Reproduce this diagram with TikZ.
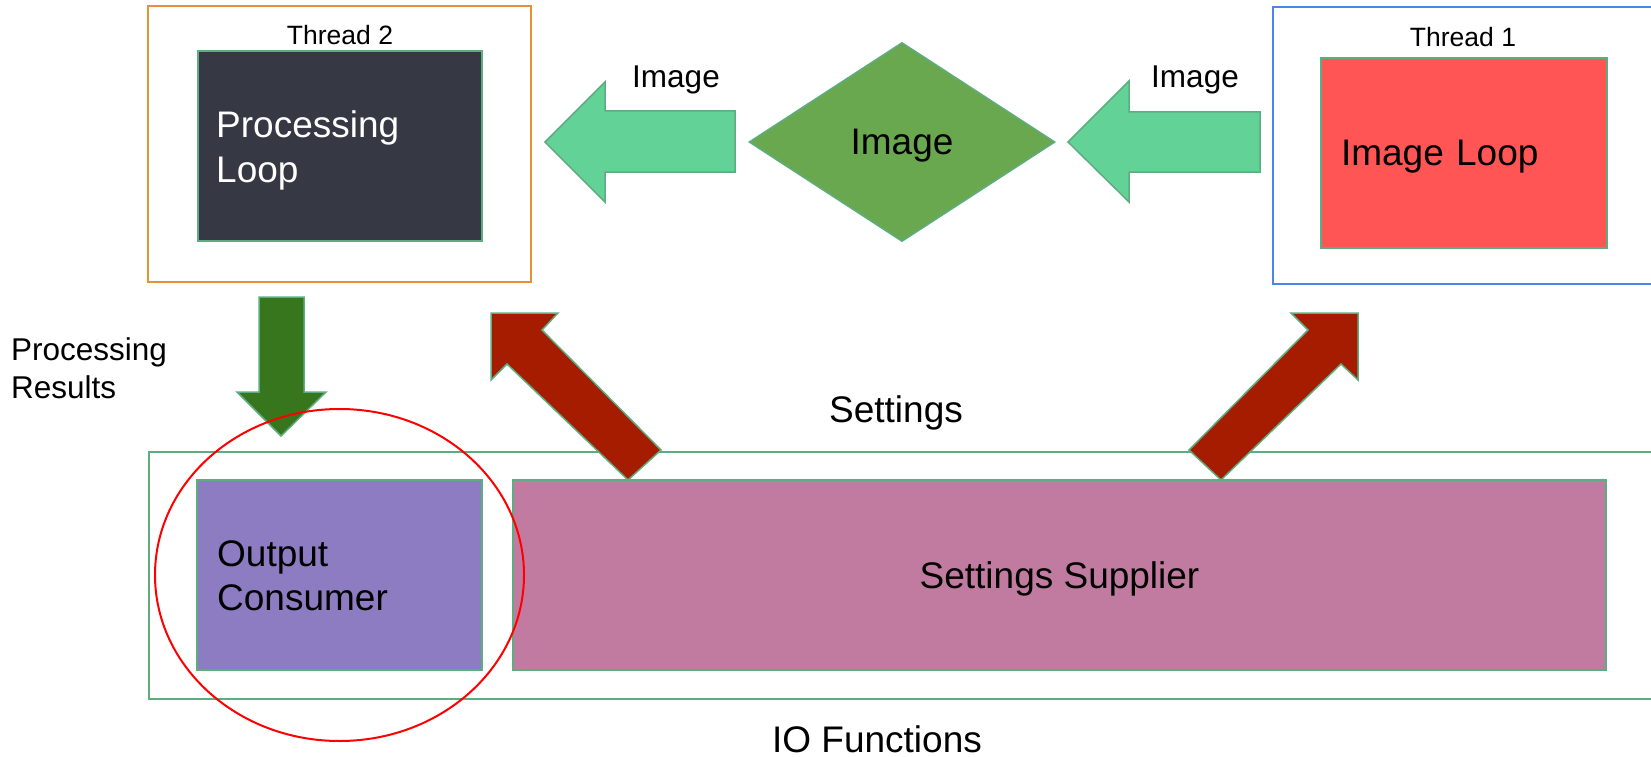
\documentclass[tikz,border=0pt]{standalone}
\usepackage{fontspec}
\setmainfont{Liberation Sans}
\usepackage{xcolor}
\usepackage{tikz}
\usetikzlibrary{shapes.geometric,fit,positioning}
\definecolor{edge}{HTML}{5EAD80}
\definecolor{orangeT}{HTML}{E69138}
\definecolor{blueT}{HTML}{4A86E8}
\definecolor{slate}{HTML}{363844}
\definecolor{redL}{HTML}{FF5555}
\definecolor{mint}{HTML}{63D297}
\definecolor{diam}{HTML}{6AA84F}
\definecolor{leaf}{HTML}{38761D}
\definecolor{rust}{HTML}{A61C00}
\definecolor{purp}{HTML}{8E7CC3}
\definecolor{pinkS}{HTML}{C27BA0}
\begin{document}
\begin{tikzpicture}[
  x=1pt,y=-1pt,
  threadbox/.style={line width=2pt,inner sep=0pt},
  block/.style={draw=edge,line width=2pt,inner sep=0pt,minimum width=285pt,minimum height=190pt},
  capt/.style={font=\fontsize{26.5}{32}\selectfont},
  lbl/.style={font=\fontsize{31.5}{38}\selectfont},
  big/.style={font=\fontsize{37}{44}\selectfont},
  oneline/.style={big,text depth=0pt},
  blocktext/.style={big,align=left,anchor=base west,inner sep=0pt},
  blockarrow/.style={draw=edge,line width=1.5pt,line join=miter}
]
\useasboundingbox (0,0) rectangle (1651,757);

% thread frames
\node[threadbox,draw=orangeT,fit={(148,6)(531,282)}] (thr2) {};
\node[threadbox,draw=blueT,fit={(1273,7)(1665,284)}] (thr1) {};
\node[capt,anchor=base] (thr2lbl) at (340,45) {Thread 2};
\node[capt,anchor=base] (thr1lbl) at (1463,47) {Thread 1};

% loops
\node[block,fill=slate,minimum width=284pt] (proc) at (340,146) {};
\node[blocktext,text=white] (proctxt) at (216,182) {Processing\\Loop};
\node[block,fill=redL,oneline,text width=246pt,align=left,minimum width=286pt] (imgloop) at (1464,153) {Image Loop};

% image hand-over
\node[diamond,draw=edge,fill=diam,line width=1.5pt,minimum width=306pt,minimum height=199pt,inner sep=0pt,oneline] (img) at (902,142) {Image};
\draw[blockarrow,fill=mint] (735,111) -- (605,111) -- (605,82) -- (545,142) -- (605,202) -- (605,172) -- (735,172) -- cycle;
\draw[blockarrow,fill=mint] (1260,112) -- (1129,112) -- (1129,81) -- (1068,142) -- (1129,202) -- (1129,172) -- (1260,172) -- cycle;
\node[lbl,anchor=base] (imglblA) at (676,88) {Image};
\node[lbl,anchor=base] (imglblB) at (1195,88) {Image};

% IO functions
\node[threadbox,draw=edge,fit={(149,452)(1665,699)}] (io) {};
\node[big,anchor=base] (iolbl) at (877,752) {IO Functions};

% settings
\draw[blockarrow,fill=rust] (661,450) -- (542,330) -- (558,313) -- (491,313) -- (491,380) -- (507,364) -- (628,480) -- cycle;
\draw[blockarrow,fill=rust] (1189,450) -- (1308,330) -- (1291,313) -- (1358,313) -- (1358,380) -- (1341,364) -- (1221,480) -- cycle;
\node[big,anchor=base] (setlbl) at (896,422) {Settings};

\node[block,fill=purp] (out) at (339.5,575) {};
\node[blocktext] (outtxt) at (217,610) {Output\\Consumer};
\node[block,fill=pinkS,oneline,minimum width=1093pt] (sup) at (1059.5,575) {Settings Supplier};

% results
\draw[blockarrow,fill=leaf] (259,297) -- (304,297) -- (304,392) -- (326,392) -- (281,436) -- (237,392) -- (259,392) -- cycle;
\node[lbl,anchor=base west,align=left,inner sep=0pt] (reslbl) at (11,398) {Processing\\Results};

\node[ellipse,draw=red,line width=2pt,minimum width=369pt,minimum height=332pt] (focus) at (out.center) {};
\end{tikzpicture}
\end{document}
